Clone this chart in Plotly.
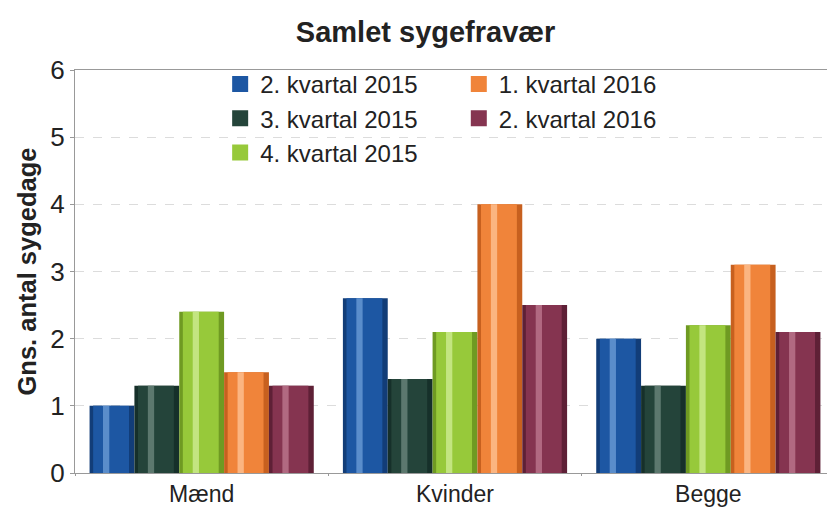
import plotly.graph_objects as go

categories = ["Mænd", "Kvinder", "Begge"]
series_names = ["2. kvartal 2015", "3. kvartal 2015", "4. kvartal 2015", "1. kvartal 2016", "2. kvartal 2016"]
q2_2015 = [1.0, 2.6, 2.0]
q3_2015 = [1.3, 1.4, 1.3]
q4_2015 = [2.4, 2.1, 2.2]
q1_2016 = [1.5, 4.0, 3.1]
q2_2016 = [1.3, 2.5, 2.1]
y_ticks = [0, 1, 2, 3, 4, 5, 6]

series_values = [q2_2015, q3_2015, q4_2015, q1_2016, q2_2016]
colors = ["#1d57a3", "#24443a", "#97c93a", "#f0843a", "#853450"]
edge_colors = ["#123d78", "#16302a", "#6f9a22", "#c7601f", "#5e2036"]
highlights = ["#6f9fd8", "#6f8a80", "#d2ee98", "#ffc69a", "#c07b92"]
legend_ids = ["legend", "legend", "legend", "legend2", "legend2"]

group_width = 0.885
bar_w = group_width / 5

fig = go.Figure()
for i, (name, vals) in enumerate(zip(series_names, series_values)):
    off = -group_width / 2 + i * bar_w
    # base (dark edges)
    fig.add_trace(go.Bar(
        x=categories, y=vals, name=name, width=bar_w, offset=off,
        marker=dict(color=edge_colors[i], line=dict(width=0)),
        showlegend=False,
    ))
    # main body
    fig.add_trace(go.Bar(
        x=categories, y=vals, name=name, width=bar_w * 0.8, offset=off + bar_w * 0.08,
        marker=dict(color=colors[i], line=dict(width=0)),
        showlegend=False,
    ))
    # highlight stripe
    fig.add_trace(go.Bar(
        x=categories, y=vals, name=name, width=bar_w * 0.14, offset=off + bar_w * 0.3,
        marker=dict(color=highlights[i], line=dict(width=0)), opacity=0.75,
        showlegend=False, hoverinfo="skip",
    ))
    # legend entry (square swatch)
    fig.add_trace(go.Scatter(
        x=[None], y=[None], mode="markers", name=name,
        marker=dict(symbol="square", size=16, color=colors[i]),
        legend=legend_ids[i], showlegend=True,
    ))

legend_common = dict(y=1.02, xanchor="left", yanchor="top", orientation="v",
                     font=dict(size=24, color="#222"), bgcolor="rgba(0,0,0,0)",
                     itemwidth=30, tracegroupgap=0, itemsizing="trace")

# The page adds an 8px body margin; compensate so the chart fills the 835x508 window.
fig.update_layout(
    width=827, height=500,
    margin=dict(l=67, r=0, t=62, b=35, autoexpand=False),
    paper_bgcolor="white", plot_bgcolor="white",
    barmode="overlay",
    font=dict(family="Liberation Sans, Arial, sans-serif", color="#222"),
    title=dict(text="<b>Samlet sygefravær</b>", x=0.505, xanchor="center", y=0.952, yanchor="middle",
               font=dict(size=29, color="#222")),
    legend=dict(x=0.191, **legend_common),
    legend2=dict(x=0.505, **legend_common),
    xaxis=dict(range=[-0.5, 2.5], showgrid=False, showline=True, linecolor="#999", linewidth=1,
               mirror=True, ticks="outside", ticklen=2, tickcolor="#999", tickson="boundaries",
               automargin=False, tickfont=dict(size=23, color="#222")),
    yaxis=dict(range=[0, 6], tickvals=y_ticks, showgrid=True, gridcolor="#dcdcdc", griddash="dash",
               gridwidth=1, showline=True, linecolor="#999", linewidth=1, ticks="outside", ticklen=4,
               tickcolor="#999", zeroline=False, automargin=False, tickfont=dict(size=26, color="#222"),
               title=dict(text="<b>Gns. antal sygedage</b>", font=dict(size=25.5, color="#222"), standoff=6)),
)

fig.write_html("out.html")
